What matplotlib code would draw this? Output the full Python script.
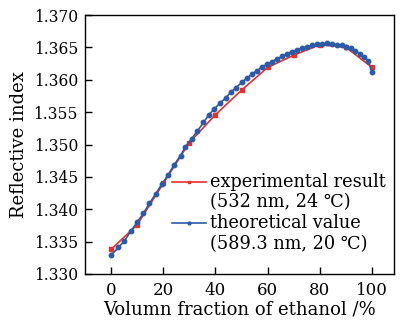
import matplotlib
matplotlib.use('Agg')
from matplotlib import pyplot as plt

# experimental result (532 nm, 24 C)
exp_x = [0, 10, 20, 30, 40, 50, 60, 70, 80, 90, 100]
exp_n = [1.3338, 1.3376, 1.3440, 1.3503, 1.3546, 1.3584, 1.3619, 1.3638, 1.3654, 1.3650, 1.3619]

# theoretical value (589.3 nm, 20 C)
theo_x = [0, 2.8, 5.1, 7.5, 10.0, 12.4, 14.7, 17.1, 19.5, 21.8, 24.1, 26.6, 28.4, 30.9,
          33.1, 35.4, 37.5, 39.5, 41.8, 43.9, 45.9, 47.9, 50.1, 52.2, 54.1, 55.8, 57.7,
          59.7, 61.6, 63.5, 65.4, 67.3, 69.2, 71.1, 73.1, 75.0, 76.9, 78.8, 80.7, 82.6,
          84.6, 86.5, 88.4, 90.0, 91.8, 93.6, 95.4, 96.9, 98.6, 99.9]
theo_n = [1.3329, 1.3341, 1.3351, 1.3366, 1.3380, 1.3394, 1.3409, 1.3424, 1.3439, 1.3453,
          1.3468, 1.3483, 1.3496, 1.3509, 1.3521, 1.3534, 1.3546, 1.3555, 1.3564, 1.3572,
          1.3581, 1.3588, 1.3596, 1.3603, 1.3609, 1.3614, 1.3619, 1.3624, 1.3628, 1.3632,
          1.3636, 1.3640, 1.3643, 1.3646, 1.3649, 1.3651, 1.3653, 1.3655, 1.3655, 1.3656,
          1.3655, 1.3654, 1.3653, 1.3651, 1.3649, 1.3645, 1.3640, 1.3635, 1.3629, 1.3612]

x_ticks = [0, 20, 40, 60, 80, 100]
y_ticks = [1.330, 1.335, 1.340, 1.345, 1.350, 1.355, 1.360, 1.365, 1.370]

red = '#e8302a'
blue = '#2b5aa8'

plt.rcParams['font.family'] = ['DejaVu Serif', 'DejaVu Sans']
plt.rcParams['font.size'] = 11

fig = plt.figure(figsize=(4.03, 3.23), dpi=100)
ax = fig.add_axes([85 / 403, 1 - 274 / 323, 309 / 403, 259 / 323])

ax.plot(exp_x, exp_n, color=red, lw=1.2, marker='s', ms=3)
ax.plot(theo_x, theo_n, color=blue, lw=1.2, marker='o', ms=3.2)

ax.set_xlim(-10, 108.4)
ax.set_ylim(1.330, 1.370)
ax.set_xticks(x_ticks)
ax.set_yticks(y_ticks)
ax.set_yticklabels(['%.3f' % v for v in y_ticks])
ax.tick_params(direction='in', length=5, width=1, labelsize=11.2)
ax.tick_params(axis='x', pad=6, labelsize=12)
ax.tick_params(axis='y', pad=5)
for s in ax.spines.values():
    s.set_linewidth(1)

ax.set_xlabel('Volumn fraction of ethanol /%', fontsize=13, labelpad=1)
ax.set_ylabel('Reflective index', fontsize=13, labelpad=4)

# legend drawn by hand so the marker line sits on the first text line
leg = [(red, 's', 'experimental result', '(532 nm, 24 \u2103)', 0.355, 0.278),
       (blue, 'o', 'theoretical value', '(589.3 nm, 20 \u2103)', 0.197, 0.115)]
for col, mk, l1, l2, y1, y2 in leg:
    ax.plot([0.282, 0.39], [y1, y1], color=col, lw=1.2, transform=ax.transAxes)
    ax.plot([0.336], [y1], color=col, marker=mk, ms=2, transform=ax.transAxes)
    ax.text(0.405, y1, l1, transform=ax.transAxes, va='center', fontsize=12.8)
    ax.text(0.405, y2, l2, transform=ax.transAxes, va='center', fontsize=12.8)

plt.savefig('out.png', dpi=100)
